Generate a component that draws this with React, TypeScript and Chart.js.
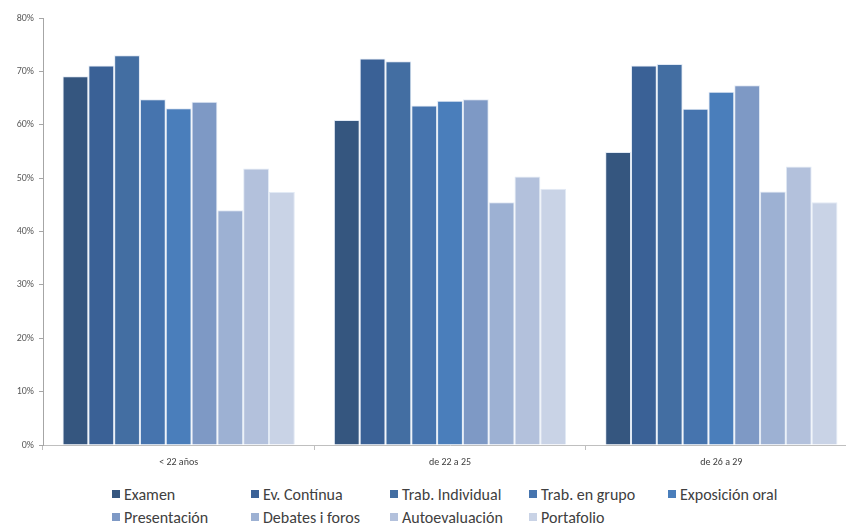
import React, { useEffect, useRef } from "react";
import { Chart, registerables } from "chart.js";

Chart.register(...registerables);

const categories = ["< 22 años", "de 22 a 25", "de 26 a 29"];
const seriesNames = [
  "Examen",
  "Ev. Contínua",
  "Trab. Individual",
  "Trab. en grupo",
  "Exposición oral",
  "Presentación",
  "Debates i foros",
  "Autoevaluación",
  "Portafolio",
];
const examen = [69.1, 60.9, 54.9];
const evContinua = [71.1, 72.4, 71.1];
const trabIndividual = [73.0, 71.9, 71.4];
const trabGrupo = [64.8, 63.6, 63.0];
const exposicion = [63.1, 64.5, 66.2];
const presentacion = [64.3, 64.8, 67.4];
const debates = [44.0, 45.5, 47.5];
const autoevaluacion = [51.8, 50.3, 52.2];
const portafolio = [47.4, 48.0, 45.5];
const seriesValues = [
  examen,
  evContinua,
  trabIndividual,
  trabGrupo,
  exposicion,
  presentacion,
  debates,
  autoevaluacion,
  portafolio,
];
const seriesColors = [
  "#35567f",
  "#3a6196",
  "#436ea2",
  "#4674ae",
  "#4a7ebb",
  "#7e99c5",
  "#9db1d3",
  "#b3c1dc",
  "#c9d3e6",
];
const yTicks = [0, 10, 20, 30, 40, 50, 60, 70, 80];

const textFont = "'Carlito', 'Open Sans', 'Liberation Sans', sans-serif";

export default function App() {
  const ref = useRef<HTMLCanvasElement | null>(null);

  useEffect(() => {
    document.body.style.margin = "0";
    const ctx = ref.current;
    if (!ctx) return;
    const chart = new Chart(ctx, {
      type: "bar",
      data: {
        labels: categories,
        datasets: seriesNames.map((name, i) => ({
          label: name,
          data: seriesValues[i],
          backgroundColor: seriesColors[i],
          borderColor: "#e2eaf5",
          borderWidth: { left: 1, right: 1, top: 1, bottom: 0 },
          categoryPercentage: 0.856,
          barPercentage: 1,
        })),
      },
      options: {
        responsive: false,
        animation: false,
        layout: { padding: { top: 18, right: 0, left: 0, bottom: 0 } },
        plugins: { legend: { display: false }, tooltip: { enabled: false } },
        scales: {
          x: {
            grid: {
              offset: true,
              drawOnChartArea: false,
              drawTicks: true,
              tickLength: 5,
              color: "#bfbfbf",
            },
            border: { color: "#bfbfbf" },
            ticks: {
              color: "#404040",
              padding: 6,
              font: { family: textFont, size: 10 },
            },
            afterFit: (s: any) => {
              s.height = 35;
            },
          },
          y: {
            min: 0,
            max: 80,
            afterBuildTicks: (s: any) => {
              s.ticks = yTicks.map((v) => ({ value: v }));
            },
            grid: {
              drawOnChartArea: false,
              drawTicks: true,
              tickLength: 4,
              color: "#a6a6a6",
            },
            border: { color: "#a6a6a6" },
            ticks: {
              color: "#595959",
              padding: 5,
              font: { family: textFont, size: 10 },
              callback: (v: any) => v + "%",
            },
            afterFit: (s: any) => {
              s.width = 43;
            },
          },
        },
      },
    });
    return () => chart.destroy();
  }, []);

  return (
    <div style={{ position: "relative", width: 846, height: 526, overflow: "hidden", background: "#fff" }}>
      <canvas ref={ref} width={857} height={480} style={{ position: "absolute", left: 0, top: 0 }} />
      {seriesNames.map((name, i) => {
        const col = i % 5;
        const row = Math.floor(i / 5);
        return (
          <div
            key={name}
            style={{
              position: "absolute",
              left: 112 + col * 139,
              top: 484 + row * 23,
              height: 20,
              display: "flex",
              alignItems: "center",
              fontFamily: textFont,
              fontSize: 16,
              color: "#404040",
              whiteSpace: "nowrap",
            }}
          >
            <span
              style={{
                display: "inline-block",
                width: 8,
                height: 8,
                background: seriesColors[i],
                marginRight: 4,
              }}
            />
            {name}
          </div>
        );
      })}
    </div>
  );
}
